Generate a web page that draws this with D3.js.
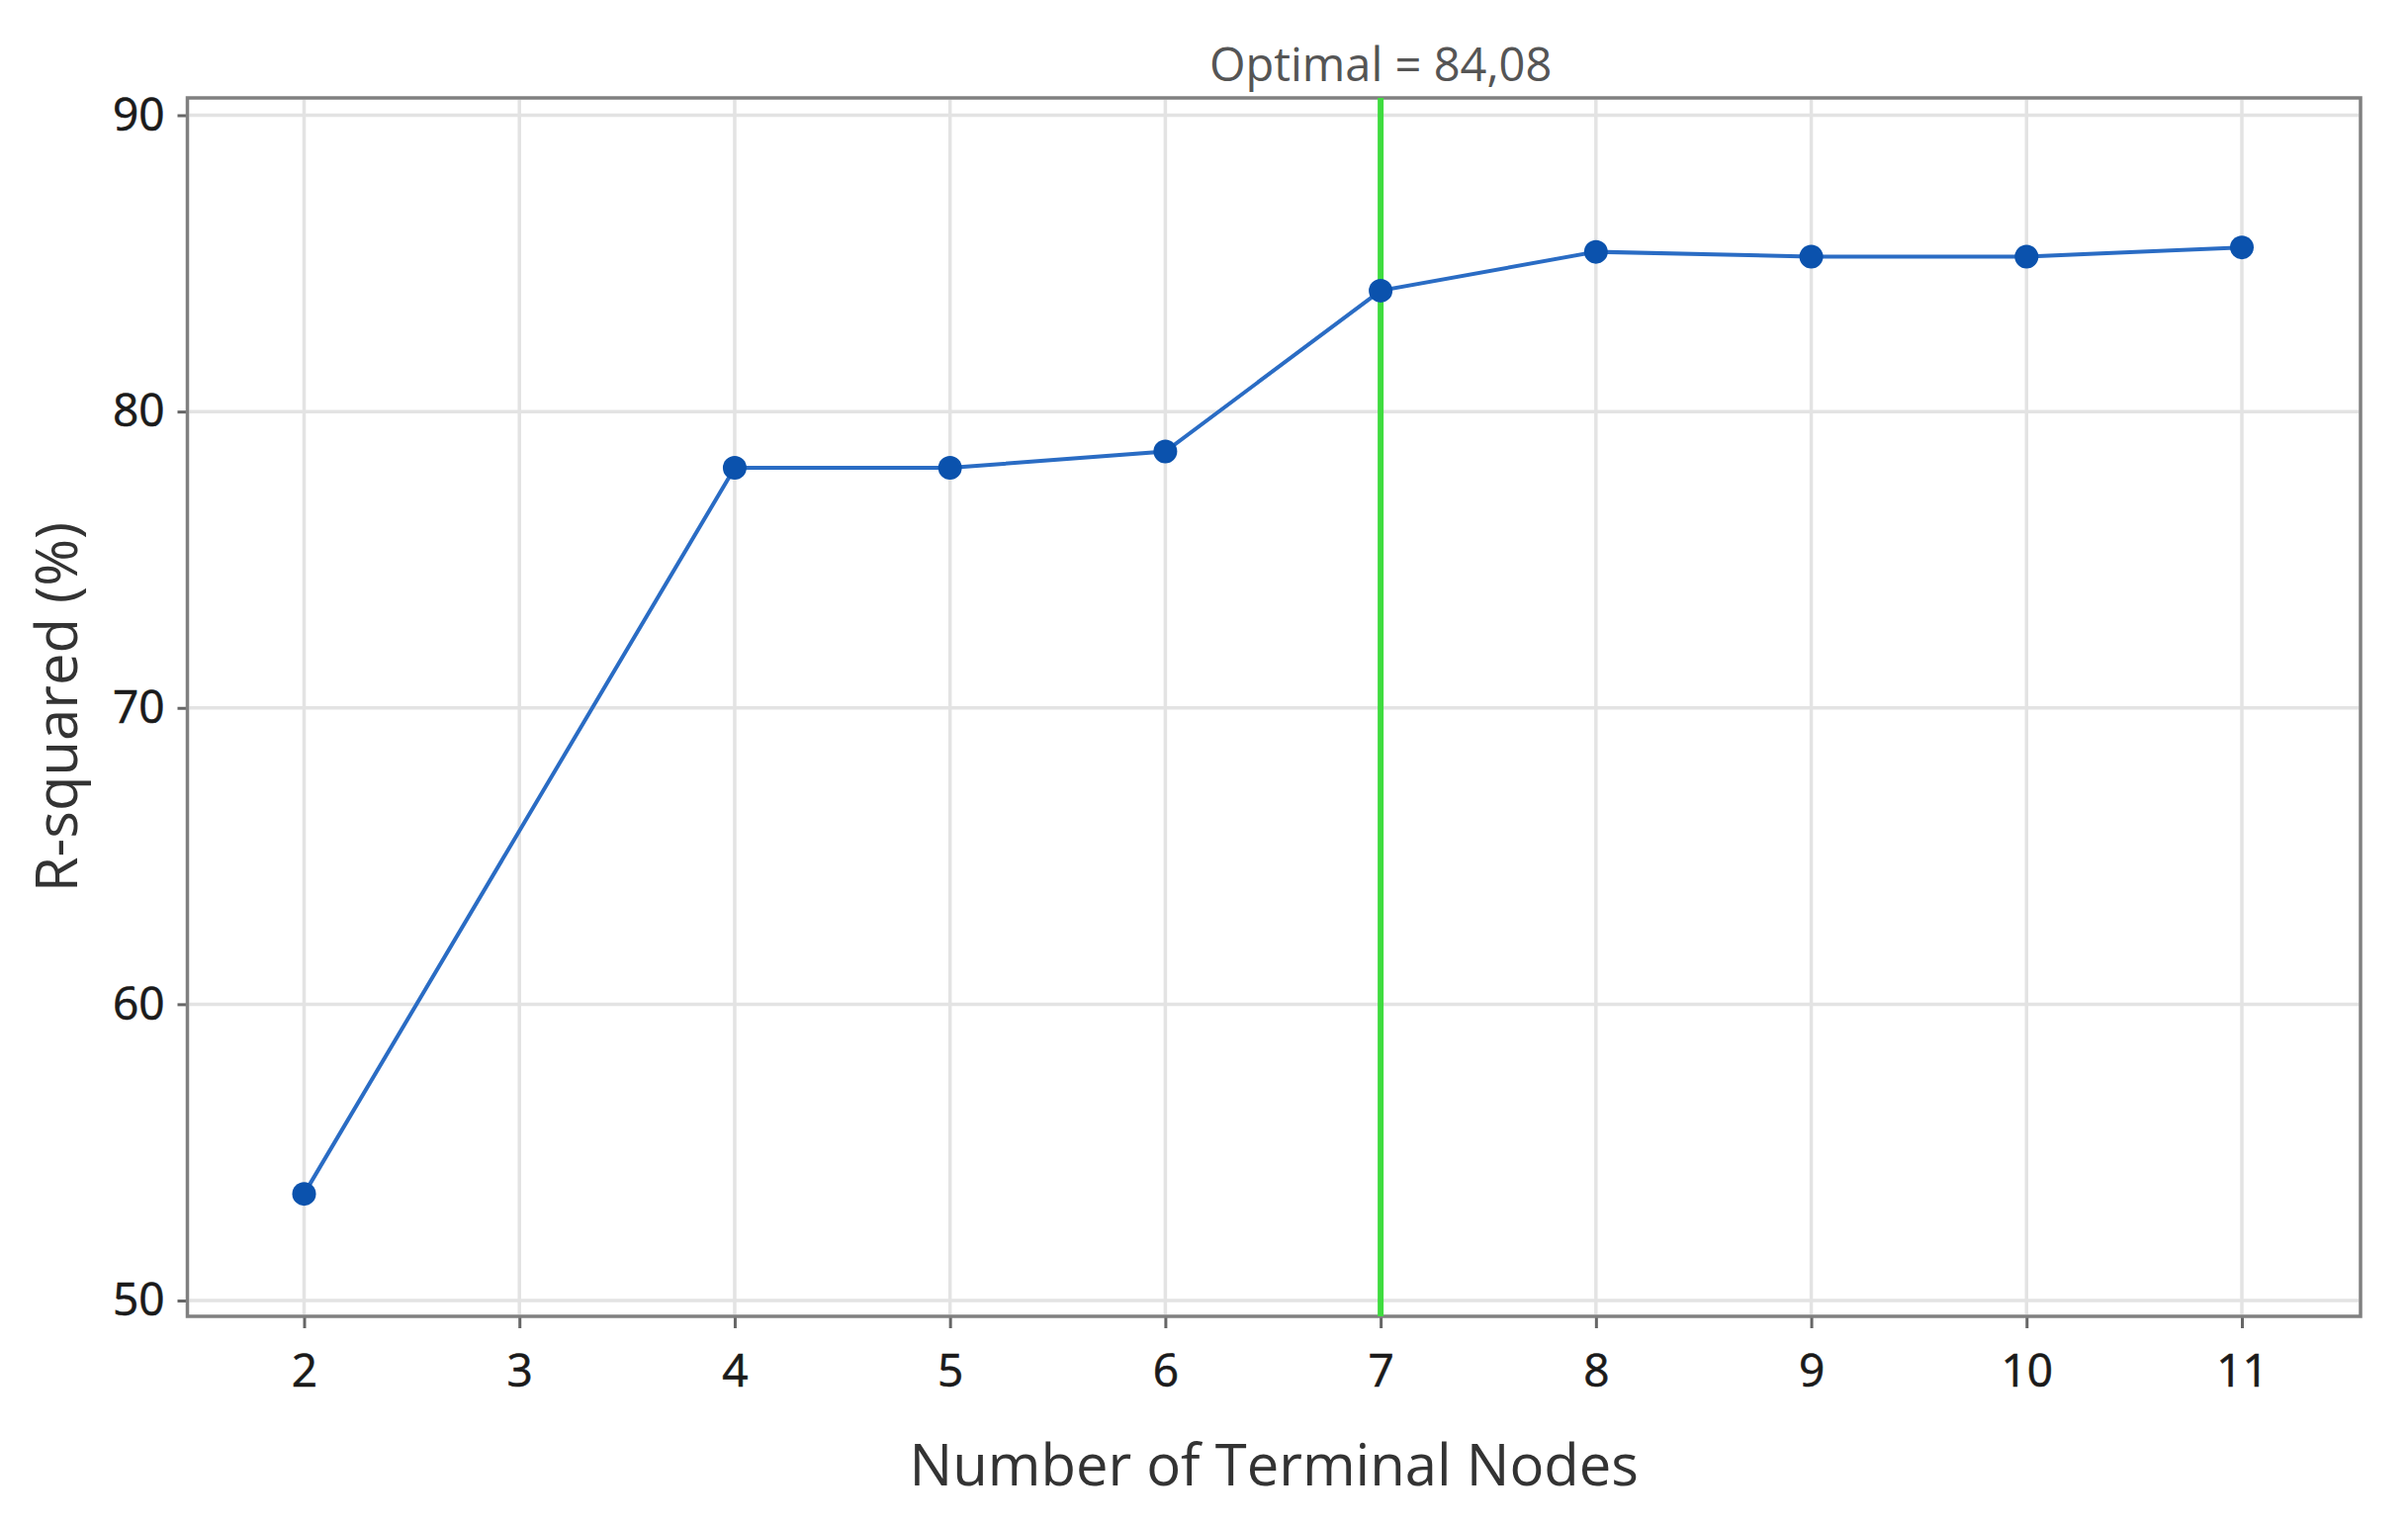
<!DOCTYPE html>
<html>
<head>
<meta charset="utf-8">
<script src="https://cdn.jsdelivr.net/npm/d3@7"></script>
<style>
  html, body { margin: 0; padding: 0; background: #ffffff; }
  svg { display: block; }
  text { font-family: "Open Sans", "Noto Sans", sans-serif; }
</style>
</head>
<body>
<div id="chart"></div>
<script>
// ---- data ----
const terminalNodes = [2, 4, 5, 6, 7, 8, 9, 10, 11];
const rSquared = [53.6, 78.1, 78.1, 78.65, 84.08, 85.39, 85.23, 85.23, 85.54];
const xTickValues = [2, 3, 4, 5, 6, 7, 8, 9, 10, 11];
const yTickValues = [50, 60, 70, 80, 90];
const optimalNodes = 7;
const optimalLabel = "Optimal = 84,08";
const xTitle = "Number of Terminal Nodes";
const yTitle = "R-squared (%)";

// ---- layout ----
const W = 2435, H = 1543;
const frame = { left: 189.5, right: 2387, top: 99, bottom: 1331 };

const svg = d3.select("#chart").append("svg")
  .attr("width", W).attr("height", H);

const x = d3.scaleLinear().domain([2, 11]).range([307.5, 2267]);
const y = d3.scaleLinear().domain([50, 90]).range([1315, 116.5]);

// gridlines
const grid = svg.append("g");
grid.selectAll("line.vg").data(xTickValues).join("line")
  .attr("x1", d => x(d)).attr("x2", d => x(d))
  .attr("y1", frame.top + 2).attr("y2", frame.bottom - 2)
  .attr("stroke", "#e3e3e3").attr("stroke-width", 3.5);
grid.selectAll("line.hg").data(yTickValues).join("line")
  .attr("y1", d => y(d)).attr("y2", d => y(d))
  .attr("x1", frame.left + 2).attr("x2", frame.right - 2)
  .attr("stroke", "#e3e3e3").attr("stroke-width", 3.5);

// axes
const xAxis = svg.append("g")
  .attr("transform", `translate(0,${frame.bottom})`)
  .call(d3.axisBottom(x).tickValues(xTickValues).tickSize(12).tickPadding(26).tickFormat(d3.format("d")));
const yAxis = svg.append("g")
  .attr("transform", `translate(${frame.left},0)`)
  .call(d3.axisLeft(y).tickValues(yTickValues).tickSize(10).tickPadding(13).tickFormat(d3.format("d")));

[xAxis, yAxis].forEach(a => {
  a.select(".domain").remove();
  a.selectAll(".tick line").attr("stroke", "#666").attr("stroke-width", 3);
  a.selectAll(".tick text").attr("fill", "#1a1a1a").style("font-size", "46px")
    .attr("stroke", "#1a1a1a").attr("stroke-width", 0.6);
});

// frame
svg.append("rect")
  .attr("x", frame.left).attr("y", frame.top)
  .attr("width", frame.right - frame.left).attr("height", frame.bottom - frame.top)
  .attr("fill", "none").attr("stroke", "#808080").attr("stroke-width", 3.5);

// optimal reference line
svg.append("line")
  .attr("x1", x(optimalNodes)).attr("x2", x(optimalNodes))
  .attr("y1", frame.top).attr("y2", frame.bottom)
  .attr("stroke", "#3fdc3f").attr("stroke-width", 6);

svg.append("text")
  .attr("x", x(optimalNodes)).attr("y", 82)
  .attr("text-anchor", "middle")
  .attr("fill", "#555")
  .style("font-size", "47px")
  .text(optimalLabel);

// series line
const pts = terminalNodes.map((n, i) => [n, rSquared[i]]);
svg.append("path")
  .datum(pts)
  .attr("fill", "none")
  .attr("stroke", "#2a6cc4")
  .attr("stroke-width", 4)
  .attr("d", d3.line().x(d => x(d[0])).y(d => y(d[1])));

svg.selectAll("circle.pt").data(pts).join("circle")
  .attr("cx", d => x(d[0])).attr("cy", d => y(d[1]))
  .attr("r", 12)
  .attr("fill", "#0b52ad");

// axis titles
svg.append("text")
  .attr("x", (frame.left + frame.right) / 2).attr("y", 1502)
  .attr("text-anchor", "middle")
  .attr("fill", "#333")
  .style("font-size", "58px")
  .text(xTitle);

svg.append("text")
  .attr("transform", `translate(78,${(frame.top + frame.bottom) / 2}) rotate(-90)`)
  .attr("text-anchor", "middle")
  .attr("fill", "#333")
  .style("font-size", "58px")
  .text(yTitle);
</script>
</body>
</html>
